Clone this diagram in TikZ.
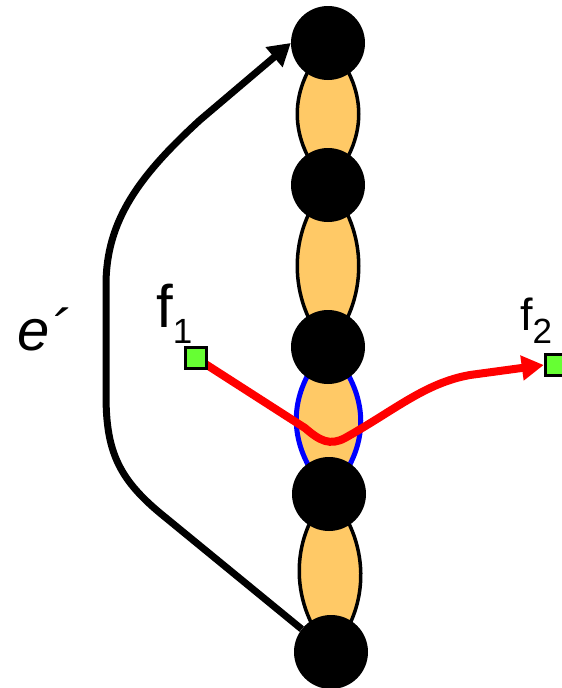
\documentclass[tikz,border=0pt]{standalone}
\usepackage{fontspec}
\setmainfont{Liberation Sans}
\usetikzlibrary{arrows.meta}
\definecolor{beadfill}{RGB}{255,201,102}
\definecolor{sitegreen}{RGB}{102,255,51}

\begin{document}
\begin{tikzpicture}[x=1pt,y=-1pt,
  bead/.style={circle,fill=black,minimum size=74pt,inner sep=0pt},
  lens/.style={draw=black,line width=3.5pt,fill=beadfill},
  site/.style={rectangle,draw=black,line width=3.5pt,fill=sitegreen,minimum size=21pt,inner sep=0pt},
  lbl/.style={anchor=base west,inner sep=0pt}]
\useasboundingbox (0,0) rectangle (562,688);

% lenses between the beads
\coordinate (c1) at (328,43);
\coordinate (c2) at (328,185);
\coordinate (c3) at (328,347);
\coordinate (c4) at (329,494);
\coordinate (c5) at (331,652);
\foreach \a/\b in {c1/c2,c2/c3,c4/c5}
  \draw[lens] (\a) .. controls +(-41,45) and +(-41,-45) .. (\b)
    .. controls +(41,-45) and +(41,45) .. (\a);
\draw[lens,draw=blue,line width=5pt] (c3) .. controls +(-43,47) and +(-43,-47) .. (c4)
    .. controls +(43,-47) and +(43,47) .. (c3);

\foreach \n in {1,...,5}
  \node[bead] (b\n) at (c\n) {};

\node[site] (s1) at (196,358) {};
\node[site] (s2) at (556,365) {};

\draw[red,line width=8pt,-{Triangle[length=22pt,width=24pt]}]
  (s1.center) -- (305,428) .. controls (320,441) and (330,446) .. (345,438)
  .. controls (395,410) and (425,383) .. (470,375) -- (s2.west);
\node[site] at (s1) {};
\node[site] at (s2) {};

\draw[line width=7pt,-{Triangle[length=22pt,width=25pt]}]
  (b5.142) -- (160,513) .. controls (118,478) and (106,450) .. (106,395)
  -- (106,285) .. controls (106,220) and (140,175) .. (200,120) -- (b1.west);

\node[lbl] (lf1) at (156,327) {\fontsize{60}{60}\selectfont f\raisebox{-16pt}{\fontsize{35}{35}\selectfont 1}};
\node[lbl] (lf2) at (520,330) {\fontsize{45}{45}\selectfont f\raisebox{-13pt}{\fontsize{35}{35}\selectfont 2}};
\node[lbl] (le) at (17,350) {\fontsize{58}{58}\selectfont\itshape e\kern1pt´};
\end{tikzpicture}
\end{document}
